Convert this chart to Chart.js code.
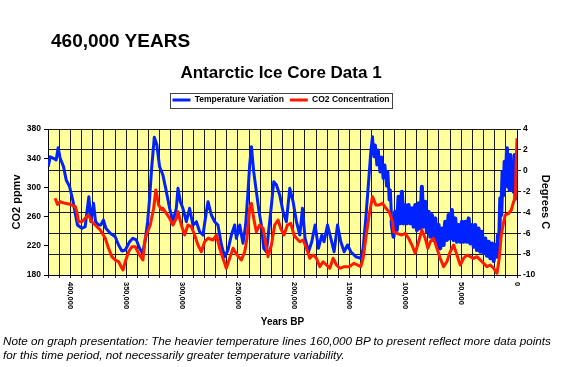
<!DOCTYPE html>
<html>
<head>
<meta charset="utf-8">
<title>Antarctic Ice Core Data</title>
<script src="https://cdn.jsdelivr.net/npm/chart.js@4.4.1/dist/chart.umd.min.js"></script>
<style>
  html, body { margin: 0; padding: 0; background: #fff; }
  #wrap { position: relative; width: 562px; height: 367px; overflow: hidden; }
  #myChart { position: absolute; left: 0; top: 0; }
  #heading {
    position: absolute; left: 51px; top: 31px;
    font: bold 19px "Liberation Sans", Arial, sans-serif; line-height: 19px;
    color: #000; white-space: nowrap;
  }
  #note {
    position: absolute; left: 3px; top: 334px;
    font: italic 11.7px "Liberation Sans", Arial, sans-serif; line-height: 14px;
    color: #000; white-space: nowrap;
  }
</style>
</head>
<body>
<div id="wrap">
  <canvas id="myChart" width="562" height="367"></canvas>
  <div id="heading">460,000 YEARS</div>
  <div id="note">Note on graph presentation: The heavier temperature lines 160,000 BP to present reflect more data points<br>for this time period, not necessarily greater temperature variability.</div>
</div>
<script>
// temperature (Degrees C), years BP in thousands
const tempKyr = [
  419.8, 418.0, 415.1, 412.7, 410.9, 409.1, 406.1, 403.7, 400.7, 397.8, 395.6, 393.6,
  389.7, 386.7, 384.6, 383.4, 381.6, 379.2, 377.4, 374.7, 372.7, 370.3, 368.2, 364.2,
  359.8, 356.8, 353.8, 350.8, 346.9, 344.0, 340.9, 338.0, 335.3, 332.9, 330.8, 329.0,
  327.2, 324.8, 322.5, 320.1, 317.1, 314.0, 311.1, 308.1, 305.1, 303.6, 301.5, 299.2,
  296.1, 293.2, 290.2, 287.1, 284.2, 281.2, 278.2, 276.7, 273.7, 270.7, 267.8, 264.7,
  261.8, 258.8, 255.8, 252.8, 251.3, 248.3, 245.4, 243.0, 240.9, 239.4, 237.8, 235.8,
  233.4, 231.0, 228.9, 226.8, 224.4, 222.1, 219.9, 217.8, 215.4, 212.5, 209.5, 206.5,
  203.5, 200.5, 197.5, 194.5, 192.1, 189.8, 186.7, 183.8, 180.8, 177.8, 174.8, 172.8,
  169.7, 166.7, 163.8, 160.7, 157.8, 154.8, 151.8, 148.8, 144.3, 139.9, 137.8, 135.4,
  132.9, 130.9, 129.4, 128.2, 126.9, 125.5, 124.2, 122.8, 121.3, 119.9, 118.3, 116.8,
  115.6, 114.5, 113.4, 112.3,
  112.1, 110.6, 109.1, 107.6, 106.1, 104.6, 103.1, 101.6, 100.1, 98.6, 97.1, 95.6,
  94.1, 92.6, 91.1, 89.6, 88.0, 86.7, 85.2, 83.7, 82.2, 80.7, 79.2, 77.7,
  76.2, 74.7, 73.2, 71.7, 70.2, 68.7, 67.2, 65.7, 64.3, 62.8, 61.3, 59.8,
  58.3, 56.8, 55.3, 53.8, 52.3, 50.8, 49.3, 47.8, 46.3, 44.8, 43.3, 41.8,
  40.3, 38.8, 37.4, 35.9, 34.4, 32.9, 31.4, 29.9, 28.4, 26.9, 25.4, 23.9,
  22.4, 20.9, 19.4, 17.9, 17.0, 15.8, 15.0, 14.1, 12.9, 12.0, 11.1, 9.9,
  9.0, 8.1, 7.5, 6.6, 6.0, 5.1, 3.9, 3.0, 2.1, 1.5, 0.9, 0.3
];
const tempDeg = [
  0.39, 1.34, 1.19, 1.03, 2.21, 1.19, 0.39, -0.89, -1.53, -2.81, -4.08, -5.21,
  -5.52, -5.37, -3.45, -2.49, -4.89, -3.13, -4.89, -5.21, -5.21, -4.73, -5.52, -6.00,
  -6.33, -7.12, -7.70, -7.60, -6.81, -6.48, -6.64, -7.44, -7.92, -6.64, -4.89, -2.65,
  0.23, 3.2, 2.47, 0.39, -0.41, -2.01, -3.60, -4.89, -3.60, -1.69, -2.97, -3.60,
  -4.89, -3.60, -5.21, -4.89, -5.85, -6.17, -3.93, -2.97, -4.25, -4.89, -5.21, -7.12,
  -8.25, -7.60, -6.17, -5.21, -6.48, -5.21, -6.96, -5.21, -2.01, 0.55, 2.3, -0.09,
  -2.01, -3.93, -5.21, -7.44, -7.77, -5.52, -3.29, -1.05, -1.37, -2.33, -3.93, -4.89,
  -1.69, -2.97, -4.89, -6.17, -3.60, -6.48, -7.77, -6.81, -5.21, -7.44, -6.17, -6.81,
  -5.21, -6.48, -7.77, -5.21, -6.81, -7.77, -7.12, -7.77, -8.25, -8.40, -7.44, -4.56,
  -1.05, 1.82, 3.26, 1.34, 2.47, 0.55, 1.99, -0.12, 1.31, -0.73, 0.55, -1.47,
  -0.12, -2.81, -1.85, -4.73,
  -5.21, -6.33, -3.93, -5.69, -2.49, -5.05, -2.01, -5.05, -3.29, -5.05, -3.29, -5.05,
  -3.61, -5.37, -3.29, -5.69, -3.13, -5.53, -1.53, -5.37, -2.97, -5.85, -3.93, -6.33,
  -4.25, -6.65, -4.57, -7.13, -5.21, -7.45, -5.53, -7.13, -4.89, -6.65, -4.25, -6.49,
  -3.77, -6.65, -4.57, -6.81, -5.21, -6.81, -4.89, -6.81, -4.89, -6.81, -4.57, -6.97,
  -5.21, -7.29, -5.21, -7.61, -5.53, -7.76, -5.85, -7.92, -6.49, -8.15, -6.81, -8.40,
  -6.97, -8.66, -7.13, -8.24, -6.17, -6.17, -2.65, -4.25, -0.09, -2.33, 0.87, -1.37,
  2.15, -1.53, 0.23, -1.85, 1.51, -1.69, 0.55, -2.01, 1.51, -2.65, 0.23, 1.0
];

// CO2 (ppmv), years BP in thousands
const co2Kyr = [
  413.6, 411.5, 409.1, 404.6, 400.1, 395.6, 394.2, 392.7, 389.7, 386.7, 383.7, 380.7,
  377.7, 373.2, 368.7, 365.8, 362.8, 359.8, 356.8, 352.9, 350.8, 347.8, 344.9, 341.8,
  338.9, 335.0, 332.9, 330.8, 328.4, 325.4, 323.4, 320.9, 318.0, 317.1, 314.0, 311.1,
  308.1, 305.1, 303.6, 300.6, 297.6, 294.7, 291.6, 288.7, 285.7, 282.7, 279.7, 276.7,
  272.3, 269.2, 266.3, 263.3, 260.3, 257.3, 254.3, 250.7, 246.8, 243.8, 241.8, 239.4,
  237.8, 235.8, 233.4, 230.4, 227.4, 225.0, 223.0, 219.9, 217.0, 214.0, 211.6, 208.6,
  205.6, 202.6, 199.7, 197.5, 194.5, 191.6, 188.5, 185.6, 182.6, 179.6, 176.6, 173.7,
  170.6, 167.6, 164.7, 161.6, 158.7, 154.8, 150.3, 145.9, 142.8, 139.9, 137.8, 135.4,
  132.4, 129.4, 126.4, 123.4, 120.4, 117.4, 114.5, 111.4, 110.5, 107.6, 103.1, 100.1,
  97.1, 94.1, 91.2, 88.1, 85.2, 82.2, 79.8, 77.7, 74.7, 71.7, 68.8, 65.7,
  62.8, 59.8, 56.7, 53.8, 50.8, 47.8, 44.8, 41.9, 38.8, 35.9, 32.9, 29.9,
  26.9, 23.9, 20.9, 17.9, 15.9, 14.1, 11.9, 10.5, 7.4, 5.1, 3.0, 1.5,
  0.6, 0.0
];
const co2Ppmv = [
  285.1, 276.8, 280.4, 278.2, 276.8, 273.6, 266.7, 253.0, 253.0, 257.7, 262.2, 253.0,
  248.5, 241.6, 230.3, 216.6, 205.1, 200.5, 198.2, 186.8, 198.2, 211.9, 218.8, 218.8,
  209.7, 200.5, 230.3, 239.3, 248.5, 271.4, 296.4, 275.9, 269.0, 271.4, 264.5, 257.7,
  248.5, 257.7, 266.7, 248.5, 234.8, 248.5, 246.2, 234.8, 221.1, 211.9, 225.6, 230.3,
  227.9, 234.8, 216.6, 202.9, 189.2, 202.9, 216.6, 207.4, 200.5, 211.9, 230.3, 271.4,
  278.2, 257.7, 239.3, 248.5, 244.0, 223.4, 205.1, 221.1, 248.5, 255.3, 244.0, 234.8,
  248.5, 250.8, 234.8, 230.3, 225.6, 227.9, 216.6, 202.9, 207.4, 202.9, 191.4, 198.2,
  193.7, 189.2, 202.9, 193.7, 189.2, 191.4, 191.4, 196.0, 193.7, 191.4, 202.9, 230.3,
  262.2, 287.3, 275.9, 275.9, 278.2, 271.4, 266.7, 253.0, 239.3, 237.1, 234.8, 237.1,
  230.3, 221.1, 209.7, 225.6, 241.6, 230.3, 216.6, 225.6, 230.3, 216.6, 202.9, 191.4,
  198.2, 211.9, 221.1, 207.4, 193.7, 202.9, 207.4, 205.1, 202.9, 205.1, 200.5, 196.0,
  191.4, 193.7, 189.2, 182.3, 202.9, 234.8, 253.0, 262.2, 264.5, 269.0, 280.4, 285.1,
  339.9, 367.3
];

const seriesNames = ['Temperature Variation', 'CO2 Concentration'];
const yearTicksMax = 420000;

const toPoints = (kyr, vals) => kyr.map((k, i) => ({ x: k * 1000, y: vals[i] }));

Chart.defaults.font.family = '"Liberation Sans", Arial, sans-serif';
Chart.defaults.color = '#000';

// yellow plot area
const plotBg = {
  id: 'plotBg',
  beforeDraw(chart) {
    const { ctx, chartArea: a } = chart;
    ctx.save();
    ctx.fillStyle = '#ffff9c';
    ctx.fillRect(a.left, a.top, a.right - a.left, a.bottom - a.top);
    ctx.restore();
  }
};

// border round the legend like the excel one
const legendFrame = {
  id: 'legendFrame',
  afterDraw(chart) {
    const lg = chart.legend;
    if (!lg || !lg.legendHitBoxes || !lg.legendHitBoxes.length) return;
    let l = Infinity, r = -Infinity, t = Infinity, b = -Infinity;
    lg.legendHitBoxes.forEach(h => {
      l = Math.min(l, h.left); r = Math.max(r, h.left + h.width);
      t = Math.min(t, h.top); b = Math.max(b, h.top + h.height);
    });
    const ctx = chart.ctx;
    ctx.save();
    ctx.strokeStyle = '#444';
    ctx.lineWidth = 1;
    ctx.strokeRect(Math.round(l - 2) + 0.5, Math.round(t - 3) + 0.5, Math.round(r - l + 5), Math.round(b - t + 6));
    ctx.restore();
  }
};

// x tick labels turned to read top to bottom
const xLabels = {
  id: 'xLabels',
  afterDraw(chart) {
    const sc = chart.scales.x, ctx = chart.ctx;
    ctx.save();
    ctx.font = 'bold 7.5px "Liberation Sans", Arial, sans-serif';
    ctx.fillStyle = '#000';
    ctx.textAlign = 'left';
    ctx.textBaseline = 'middle';
    sc.ticks.forEach(t => {
      if (!t.label) return;
      const px = sc.getPixelForValue(t.value);
      ctx.save();
      ctx.translate(px, chart.chartArea.bottom + 7);
      ctx.rotate(Math.PI / 2);
      ctx.fillText(t.label, 0, 0);
      ctx.restore();
    });
    ctx.restore();
  }
};

let ctx = document.getElementById('myChart').getContext('2d');
let chart = new Chart(ctx, {
  type: 'line',
  data: {
    datasets: [
      {
        label: seriesNames[1],
        data: toPoints(co2Kyr, co2Ppmv),
        yAxisID: 'yC',
        borderColor: '#ff1a00',
        borderWidth: 3,
        pointRadius: 0,
        pointStyle: 'line',
        tension: 0,
        borderJoinStyle: 'round'
      },
      {
        label: seriesNames[0],
        data: toPoints(tempKyr, tempDeg),
        yAxisID: 'yT',
        borderColor: '#0022ff',
        borderWidth: 3,
        pointRadius: 0,
        pointStyle: 'line',
        tension: 0,
        borderJoinStyle: 'round',
        // heavier line where the record is denser
        segment: { borderWidth: c => (c.p0.parsed.x <= 112500 ? 4 : 3) }
      }
    ]
  },
  options: {
    responsive: false,
    animation: false,
    events: [],
    layout: { padding: { top: 0, bottom: 37, left: 0, right: 0 } },
    plugins: {
      title: {
        display: true,
        text: 'Antarctic Ice Core Data 1',
        font: { size: 17, weight: 'bold' },
        color: '#000',
        padding: { top: 63, bottom: 6.35 }
      },
      subtitle: {
        display: true,
        text: ' ',
        weight: 500,
        font: { size: 1 },
        padding: { top: 0, bottom: 13.55 }
      },
      legend: {
        position: 'top',
        reverse: true,
        labels: {
          usePointStyle: true,
          pointStyleWidth: 18,
          font: { size: 8.5, weight: 'bold' },
          color: '#000',
          padding: 6
        }
      },
      tooltip: { enabled: false }
    },
    scales: {
      x: {
        type: 'linear',
        reverse: true,
        min: 0,
        max: yearTicksMax,
        afterFit: s => { s.height = 55; },
        ticks: {
          stepSize: 10000,
          autoSkip: false,
          minRotation: 90,
          maxRotation: 90,
          color: 'rgba(0,0,0,0)',
          font: { size: 7.5, weight: 'bold' },
          callback: v => (v % 50000 === 0 ? v.toLocaleString('en-US') : '')
        },
        grid: { color: '#1a1a1a', lineWidth: 1, tickLength: 3 },
        border: { color: '#000' },
        title: {
          display: true,
          text: 'Years BP',
          font: { size: 10, weight: 'bold' },
          padding: { top: 0, bottom: 2 }
        }
      },
      yC: {
        position: 'left',
        min: 180,
        max: 380,
        afterFit: s => { s.width = 48; },
        ticks: { stepSize: 40, font: { size: 8.5, weight: 'bold' }, color: '#000', padding: 3 },
        grid: { drawOnChartArea: false, tickLength: 4, color: '#000' },
        border: { color: '#000' },
        title: {
          display: true,
          text: 'CO2 ppmv',
          font: { size: 11, weight: 'bold' },
          padding: { top: 10.4, bottom: 0 }
        }
      },
      yT: {
        position: 'right',
        min: -10,
        max: 4,
        afterFit: s => { s.width = 45; },
        ticks: { stepSize: 2, font: { size: 8.5, weight: 'bold' }, color: '#000', padding: 2 },
        grid: { color: '#1a1a1a', lineWidth: 1, tickLength: 4 },
        border: { color: '#000' },
        title: {
          display: true,
          text: 'Degrees C',
          font: { size: 11, weight: 'bold' },
          padding: { top: 10.4, bottom: 0 }
        }
      }
    }
  },
  plugins: [plotBg, legendFrame, xLabels]
});
</script>
</body>
</html>
